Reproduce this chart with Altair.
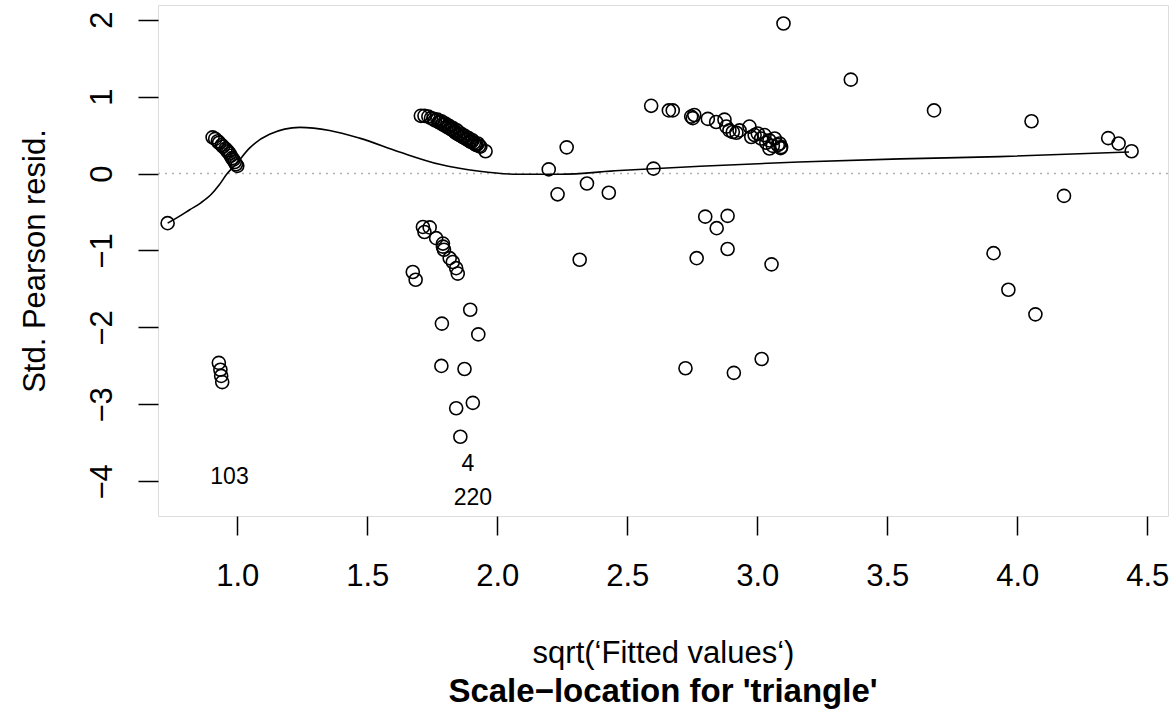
import altair as alt
import pandas as pd

# ---- data ----
pts_x = [
    # cluster near 1.0 (band)
    0.905, 0.915, 0.925, 0.93, 0.94, 0.945, 0.955, 0.96, 0.965, 0.97, 0.975, 0.98, 0.985, 0.99, 0.995, 1.0,
    # others near 1.0
    0.732, 0.929, 0.935, 0.938, 0.942,
    # cluster near 1.8 (upper band)
    1.706, 1.72, 1.735, 1.745, 1.755, 1.76, 1.77, 1.775, 1.78, 1.785, 1.79, 1.795, 1.80, 1.805, 1.81,
    1.815, 1.82, 1.825, 1.83, 1.835, 1.84, 1.845, 1.85, 1.855, 1.86, 1.865, 1.87, 1.875, 1.88, 1.885,
    1.89, 1.895, 1.90, 1.905, 1.91, 1.915, 1.92, 1.925, 1.93, 1.935, 1.955,
    # cluster near 1.8 (lower)
    1.714, 1.740, 1.720, 1.765, 1.791, 1.791, 1.795, 1.817, 1.829, 1.842, 1.848, 1.675, 1.686,
    1.896, 1.787, 1.927, 1.785, 1.874, 1.842, 1.906, 1.858,
    # middle
    2.198, 2.232, 2.267, 2.345, 2.317, 2.429,
    # cluster near 2.9 (upper)
    2.592, 2.66, 2.675, 2.746, 2.752, 2.758, 2.81, 2.842, 2.874, 2.881, 2.893, 2.906, 2.932, 2.97,
    2.977, 3.002, 3.015, 3.028, 3.047, 3.047, 3.067, 3.079, 3.092, 3.086, 2.601,
    2.92, 2.99, 3.035, 3.06, 3.09,
    # cluster near 2.9 (lower)
    2.767, 2.724, 2.91, 3.017, 2.80, 2.886, 2.844, 2.886, 3.055,
    # right side
    3.101, 3.36, 3.68, 4.055, 4.35, 4.39, 4.44, 3.909, 3.966, 4.07, 4.18,
]
pts_y = [
    0.47, 0.45, 0.42, 0.40, 0.37, 0.35, 0.32, 0.30, 0.28, 0.26, 0.23, 0.20, 0.18, 0.15, 0.12, 0.10,
    -0.645, -2.46, -2.55, -2.63, -2.71,
    0.75, 0.75, 0.74, 0.72, 0.71, 0.69, 0.70, 0.67, 0.66, 0.68, 0.64, 0.63, 0.65, 0.61, 0.60,
    0.62, 0.58, 0.57, 0.59, 0.55, 0.53, 0.56, 0.51, 0.50, 0.52, 0.48, 0.47, 0.49, 0.45, 0.44,
    0.46, 0.42, 0.41, 0.43, 0.40, 0.38, 0.37, 0.39, 0.36, 0.35, 0.29,
    -0.694, -0.70, -0.76, -0.84, -0.91, -0.95, -0.99, -1.10, -1.15, -1.23, -1.30, -1.28, -1.38,
    -1.77, -1.95, -2.09, -2.50, -2.54, -3.05, -2.98, -3.42,
    0.054, -0.27, 0.34, -0.13, -1.12, -0.25,
    0.88, 0.82, 0.82, 0.74, 0.72, 0.76, 0.71, 0.67, 0.70, 0.61, 0.56, 0.54, 0.56, 0.61,
    0.475, 0.52, 0.455, 0.50, 0.43, 0.325, 0.455, 0.37, 0.345, 0.39, 0.064,
    0.53, 0.50, 0.40, 0.36, 0.33,
    -1.10, -2.53, -2.59, -2.41, -0.56, -0.55, -0.71, -0.98, -1.18,
    1.95, 1.22, 0.82, 0.68, 0.46, 0.39, 0.29, -1.035, -1.51, -1.83, -0.29,
]

smooth_x = [0.732, 0.775, 0.817, 0.86, 0.90, 0.93, 0.959, 0.997, 1.047, 1.124, 1.24, 1.355, 1.47,
            1.624, 1.778, 1.932, 2.086, 2.24, 2.47, 2.78, 3.16, 3.55, 3.93, 4.43]
smooth_y = [-0.645, -0.56, -0.47, -0.38, -0.27, -0.15, -0.01, 0.13, 0.33, 0.51, 0.60, 0.56, 0.46,
            0.28, 0.12, 0.03, -0.01, -0.01, 0.04, 0.095, 0.15, 0.19, 0.22, 0.28]

label_text = ["103", "4", "220"]
label_x = [0.97, 1.887, 1.906]
label_y = [-3.94, -3.77, -4.22]

x_ticks = [1.0, 1.5, 2.0, 2.5, 3.0, 3.5, 4.0, 4.5]
y_ticks = [-4, -3, -2, -1, 0, 1, 2]

FONT = "Liberation Sans"
FS = 31

pts = pd.DataFrame({"x": pts_x, "y": pts_y})
smooth = pd.DataFrame({"x": smooth_x, "y": smooth_y})
labels = pd.DataFrame({"x": label_x, "y": label_y, "t": label_text})
zero = pd.DataFrame({"y": [0]})

xscale = alt.Scale(domain=[0.695, 4.58], nice=False, zero=False)
yscale = alt.Scale(domain=[-4.45, 2.19], nice=False, zero=False)

xaxis = alt.Axis(values=x_ticks, format=".1f", tickSize=19, tickColor="black", tickWidth=1.5,
                 labelFontSize=FS, labelFont=FONT, labelColor="black", labelPadding=50,
                 labelBaseline="alphabetic", grid=False, domain=False,
                 title="sqrt(‘Fitted values‘)", titleFont=FONT, titleFontSize=FS,
                 titleFontWeight="normal", titleColor="black", titlePadding=47, labelFlush=False)
yaxis = alt.Axis(values=y_ticks, format="d", tickSize=20, tickColor="black", tickWidth=1.5,
                 labelFontSize=FS, labelFont=FONT, labelColor="black", labelAngle=270,
                 labelAlign="center", labelBaseline="alphabetic", labelPadding=27,
                 grid=False, domain=False, labelFlush=False,
                 title="Std. Pearson resid.", titleFont=FONT, titleFontSize=FS,
                 titleFontWeight="normal", titleColor="black", titlePadding=35)

rule = alt.Chart(zero).mark_rule(color="#b0b0b0", strokeDash=[2, 5], strokeWidth=1.5).encode(
    y=alt.Y("y:Q", scale=yscale, axis=yaxis)
)
line = alt.Chart(smooth).mark_line(color="black", strokeWidth=1.6, interpolate="monotone").encode(
    x=alt.X("x:Q", scale=xscale, axis=xaxis),
    y=alt.Y("y:Q", scale=yscale, axis=yaxis),
)
points = alt.Chart(pts).mark_point(shape="circle", filled=False, color="black", size=170,
                                   strokeWidth=1.6, opacity=1).encode(
    x=alt.X("x:Q", scale=xscale, axis=xaxis),
    y=alt.Y("y:Q", scale=yscale, axis=yaxis),
)
texts = alt.Chart(labels).mark_text(font=FONT, fontSize=23, color="black").encode(
    x=alt.X("x:Q", scale=xscale, axis=xaxis),
    y=alt.Y("y:Q", scale=yscale, axis=yaxis),
    text="t:N",
)

chart = alt.layer(rule, line, points, texts).properties(
    width=1010,
    height=511,
    title=alt.TitleParams("Scale−location for 'triangle'", orient="bottom", anchor="middle",
                          frame="group", font=FONT, fontSize=33, fontWeight="bold",
                          color="black", offset=8),
    padding={"left": 158, "top": 5, "right": 8, "bottom": 199},
    autosize=alt.AutoSizeParams(type="none"),
).configure_view(stroke="black", strokeWidth=1.5).configure(background="white")

chart.save("out.html", embed_options={"renderer": "svg", "actions": False})
